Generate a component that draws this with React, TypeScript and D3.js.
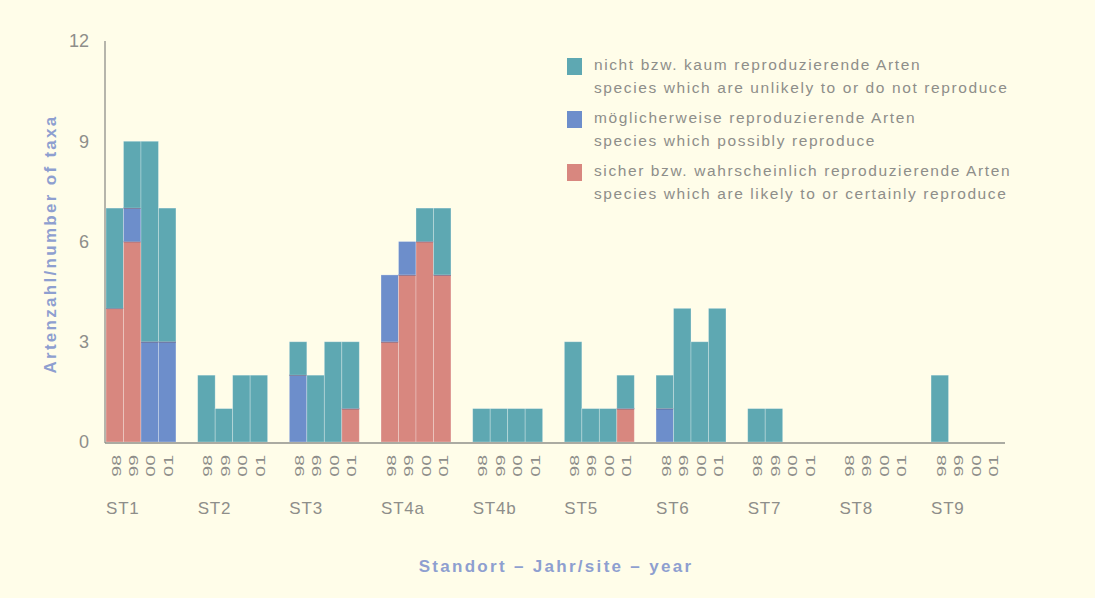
import React from "react";
import * as d3 from "d3";

const sites = ["ST1", "ST2", "ST3", "ST4a", "ST4b", "ST5", "ST6", "ST7", "ST8", "ST9"];
const years = ["98", "99", "00", "01"];
// per site, per year
const certain = [
  [4, 6, 0, 0], [0, 0, 0, 0], [0, 0, 0, 1], [3, 5, 6, 5], [0, 0, 0, 0],
  [0, 0, 0, 1], [0, 0, 0, 0], [0, 0, 0, 0], [0, 0, 0, 0], [0, 0, 0, 0],
];
const possibly = [
  [0, 1, 3, 3], [0, 0, 0, 0], [2, 0, 0, 0], [2, 1, 0, 0], [0, 0, 0, 0],
  [0, 0, 0, 0], [1, 0, 0, 0], [0, 0, 0, 0], [0, 0, 0, 0], [0, 0, 0, 0],
];
const unlikely = [
  [3, 2, 6, 4], [2, 1, 2, 2], [1, 2, 3, 2], [0, 0, 1, 2], [1, 1, 1, 1],
  [3, 1, 1, 1], [1, 4, 3, 4], [1, 1, 0, 0], [0, 0, 0, 0], [2, 0, 0, 0],
];
const yTicks = [0, 3, 6, 9, 12];
const legendItems = [
  { color: "#5ea8b2", l1: "nicht bzw. kaum reproduzierende Arten", l2: "species which are unlikely to or do not reproduce" },
  { color: "#6d8ecb", l1: "möglicherweise reproduzierende Arten", l2: "species which possibly reproduce" },
  { color: "#d8877f", l1: "sicher bzw. wahrscheinlich reproduzierende Arten", l2: "species which are likely to or certainly reproduce" },
];

const COLORS = { certain: "#d8877f", possibly: "#6d8ecb", unlikely: "#5ea8b2" };

export default function App() {
  const W = 1095, H = 598;
  const y = d3.scaleLinear().domain([0, 12]).range([442, 41]);
  const x = d3.scaleBand().domain(sites).range([106, 1001]).paddingInner(0.237).paddingOuter(0);
  const xi = d3.scaleBand().domain(years).range([0, x.bandwidth()]).padding(0);
  const font = "Liberation Sans, Arial, sans-serif";
  const grey = "#8e8e8a";
  const titleCol = "#8e9fd0";

  const bars: any[] = [];
  sites.forEach((s, si) => {
    years.forEach((yr, yi) => {
      const segs = [
        { k: "certain", v: certain[si][yi] },
        { k: "possibly", v: possibly[si][yi] },
        { k: "unlikely", v: unlikely[si][yi] },
      ];
      let base = 0;
      const bx = (x(s) as number) + (xi(yr) as number);
      const bw = xi.bandwidth();
      const total = segs.reduce((a, b) => a + b.v, 0);
      segs.forEach((sg) => {
        if (sg.v <= 0) return;
        const y0 = y(base), y1 = y(base + sg.v);
        bars.push(
          <rect key={`${s}-${yr}-${sg.k}`} x={bx} y={y1} width={bw} height={y0 - y1}
            fill={(COLORS as any)[sg.k]} stroke="#ffffff" strokeOpacity={0.35} strokeWidth={0.8} />
        );
        base += sg.v;
        if (base < total) {
          bars.push(
            <line key={`${s}-${yr}-${sg.k}-b`} x1={bx} x2={bx + bw} y1={y(base)} y2={y(base)}
              stroke="#5b4e78" strokeWidth={1.4} />
          );
        }
      });
    });
  });

  return (
    <svg width={W} height={H} style={{ position: "absolute", left: 0, top: 0, background: "#fffde9" }}>
      <rect x={0} y={0} width={W} height={H} fill="#fffde9" />
      {bars}
      <line x1={105} x2={105} y1={41} y2={443} stroke="#8f8f8a" strokeWidth={1.3} />
      <line x1={105} x2={1005} y1={443} y2={443} stroke="#8f8f8a" strokeWidth={1.3} />
      {yTicks.map((t) => (
        <text key={t} x={89} y={y(t)} dy="0.35em" textAnchor="end" fontFamily={font} fontSize={18} fill={grey}>{t}</text>
      ))}
      <text transform={`translate(56,${244}) rotate(-90)`} textAnchor="middle" fontFamily={font} fontSize={17}
        fontWeight="bold" letterSpacing={2.3} fill={titleCol}>Artenzahl/number of taxa</text>
      {sites.map((s) =>
        years.map((yr) => {
          const cx = (x(s) as number) + (xi(yr) as number) + xi.bandwidth() / 2;
          return (
            <text key={`${s}-${yr}-l`} transform={`translate(${cx + 1},${455}) rotate(-90) scale(1.15,0.8)`} textAnchor="end"
              dy="0.35em" fontFamily={font} fontSize={17} fill={grey}>{yr}</text>
          );
        })
      )}
      {sites.map((s) => (
        <text key={`${s}-site`} x={(x(s) as number)} y={514} fontFamily={font} fontSize={17} letterSpacing={0.8} fill={grey}>{s}</text>
      ))}
      <text x={556} y={572} textAnchor="middle" fontFamily={font} fontSize={17} fontWeight="bold" letterSpacing={2.3} fill={titleCol}>
        Standort – Jahr/site – year
      </text>
      {legendItems.map((it, i) => {
        const top = 58 + i * 53;
        return (
          <g key={`lg-${i}`}>
            <rect x={567} y={top} width={15} height={17} fill={it.color} />
            <text x={594} y={top + 12} fontFamily={font} fontSize={15.5} letterSpacing={1.6} fill={grey}>{it.l1}</text>
            <text x={594} y={top + 35} fontFamily={font} fontSize={15.5} letterSpacing={1.6} fill={grey}>{it.l2}</text>
          </g>
        );
      })}
    </svg>
  );
}
